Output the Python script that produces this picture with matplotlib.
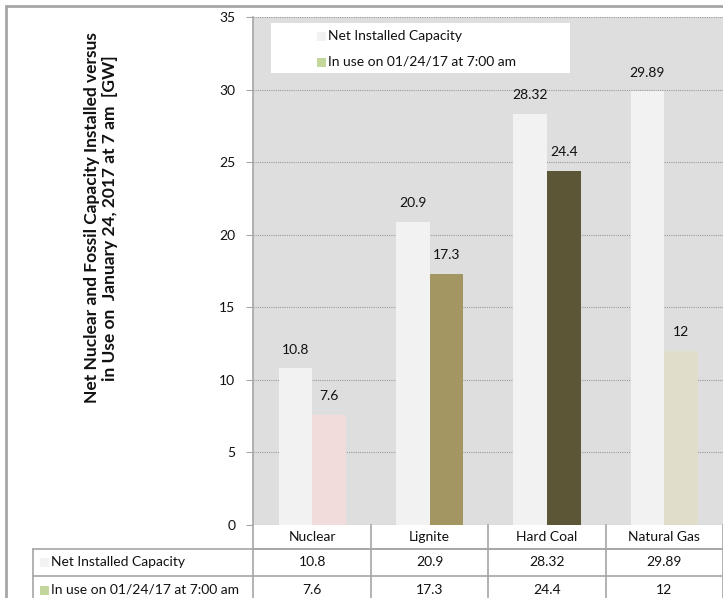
import matplotlib
matplotlib.use("Agg")
import matplotlib.pyplot as plt
from matplotlib.patches import Rectangle
from matplotlib.lines import Line2D

plt.rcParams['font.family'] = ['Lato', 'DejaVu Sans']

# ---- data ----
categories = ["Nuclear", "Lignite", "Hard Coal", "Natural Gas"]
installed = [10.8, 20.9, 28.32, 29.89]
in_use = [7.6, 17.3, 24.4, 12]
installed_labels = ["10.8", "20.9", "28.32", "29.89"]
in_use_labels = ["7.6", "17.3", "24.4", "12"]
series_names = ["Net Installed Capacity", "In use on 01/24/17 at 7:00 am"]
y_ticks = [0, 5, 10, 15, 20, 25, 30, 35]
y_label = ("Net Nuclear and Fossil Capacity Installed versus\n"
           "in Use on  January 24, 2017 at 7 am  [GW]")

# ---- styling ----
installed_color = "#F2F2F2"
in_use_colors = ["#F2DCDB", "#A39663", "#5C5536", "#E0DECB"]
legend_in_use_color = "#C3D69B"
plot_bg = "#DEDEDE"
line_gray = "#A6A6A6"

W, H = 723, 598
fig = plt.figure(figsize=(W / 100, H / 100), dpi=100)
fig.patch.set_facecolor("white")


def fx(px):
    return px / W


def fy(py):
    return 1 - py / H


# outer frame
fig.add_artist(Rectangle((fx(6), fy(H + 10)), fx(W + 10), fy(6) - fy(H + 10),
                         transform=fig.transFigure, fill=False,
                         edgecolor="#A6A6A6", linewidth=2.0, zorder=0))

# ---- plot area ----
left, right, top, bottom = 253.5, 723, 17, 525
ax = fig.add_axes([fx(left), fy(bottom), fx(right - left), fy(top) - fy(bottom)])
ax.set_facecolor(plot_bg)
ax.set_xlim(-0.5, len(categories) - 0.5)
ax.set_ylim(0, 35)

bw = 0.287
xs = list(range(len(categories)))
ax.bar([x - bw / 2 for x in xs], installed, width=bw, color=installed_color,
       zorder=3, linewidth=0)
ax.bar([x + bw / 2 for x in xs], in_use, width=bw, color=in_use_colors,
       zorder=3, linewidth=0)

for x, v, t in zip(xs, installed, installed_labels):
    ax.annotate(t, (x - bw / 2, v), xytext=(0, 9), textcoords="offset points",
                ha="center", va="bottom", fontsize=10, color="#111111")
for x, v, t in zip(xs, in_use, in_use_labels):
    ax.annotate(t, (x + bw / 2, v), xytext=(0, 9), textcoords="offset points",
                ha="center", va="bottom", fontsize=10, color="#111111")

ax.set_yticks(y_ticks)
ax.set_yticklabels([str(t) for t in y_ticks], fontsize=10, color="#111111")
ax.yaxis.grid(True, linestyle=(0, (1, 1)), color="#9A9A9A", linewidth=0.8, zorder=1)
ax.set_axisbelow(True)
ax.set_xticks([])
ax.tick_params(axis="y", length=5, width=0.8, color=line_gray, pad=8)
for side in ["top", "right", "bottom"]:
    ax.spines[side].set_visible(False)
ax.spines["left"].set_color(line_gray)
ax.spines["left"].set_linewidth(1.2)

# vertical axis title
fig.text(fx(101), fy(218), y_label, rotation=90, ha="center", va="center",
         multialignment="center", fontsize=12.5, fontweight="bold",
         linespacing=1.1, color="#111111")

# legend box
fig.add_artist(Rectangle((fx(271), fy(73)), fx(570 - 271), fy(23) - fy(73),
                         transform=fig.transFigure, facecolor="white",
                         edgecolor="none", zorder=5))
leg_colors = [installed_color, legend_in_use_color]
for i, (name, c) in enumerate(zip(series_names, leg_colors)):
    yc = 36 + i * 26
    fig.add_artist(Rectangle((fx(317), fy(yc + 4.5)), fx(8.5), fy(yc - 4.5) - fy(yc + 4.5),
                             transform=fig.transFigure, facecolor=c,
                             edgecolor="none", zorder=6))
    fig.text(fx(328), fy(yc), name, fontsize=10, va="center", ha="left",
             color="#111111", zorder=7)

# ---- data table under the axis ----
col_w = (right - left) / len(categories)
row_edges = [525, 549, 576, 603]
table_left = 33


def hline(x0, x1, y):
    fig.add_artist(Line2D([fx(x0), fx(x1)], [fy(y), fy(y)], transform=fig.transFigure,
                          color=line_gray, linewidth=1.2, zorder=4))


def vline(x, y0, y1):
    fig.add_artist(Line2D([fx(x), fx(x)], [fy(y0), fy(y1)], transform=fig.transFigure,
                          color=line_gray, linewidth=1.2, zorder=4))


hline(left, W + 5, row_edges[1])
hline(table_left, W + 5, row_edges[1])
hline(table_left, W + 5, row_edges[2])
hline(table_left, W + 5, row_edges[3] - 4.5)
vline(table_left, row_edges[1], row_edges[3])
vline(left, row_edges[0], row_edges[3])
for j in range(1, len(categories) + 1):
    vline(left + j * col_w, row_edges[0], row_edges[3])

for j, cat in enumerate(categories):
    cx = left + (j + 0.5) * col_w
    fig.text(fx(cx), fy((row_edges[0] + row_edges[1]) / 2), cat, fontsize=10,
             ha="center", va="center", color="#111111")
    fig.text(fx(cx), fy((row_edges[1] + row_edges[2]) / 2), installed_labels[j],
             fontsize=10, ha="center", va="center", color="#111111")
    fig.text(fx(cx), fy(590), in_use_labels[j],
             fontsize=10, ha="center", va="center", color="#111111")

row_centers = [(row_edges[1] + row_edges[2]) / 2, 590]
for name, c, yc in zip(series_names, leg_colors, row_centers):
    fig.add_artist(Rectangle((fx(40), fy(yc + 4.5)), fx(8.5), fy(yc - 4.5) - fy(yc + 4.5),
                             transform=fig.transFigure, facecolor=c,
                             edgecolor="none", zorder=6))
    fig.text(fx(51), fy(yc), name, fontsize=10, ha="left", va="center", color="#111111")

fig.savefig("out.png", dpi=100, facecolor="white")
